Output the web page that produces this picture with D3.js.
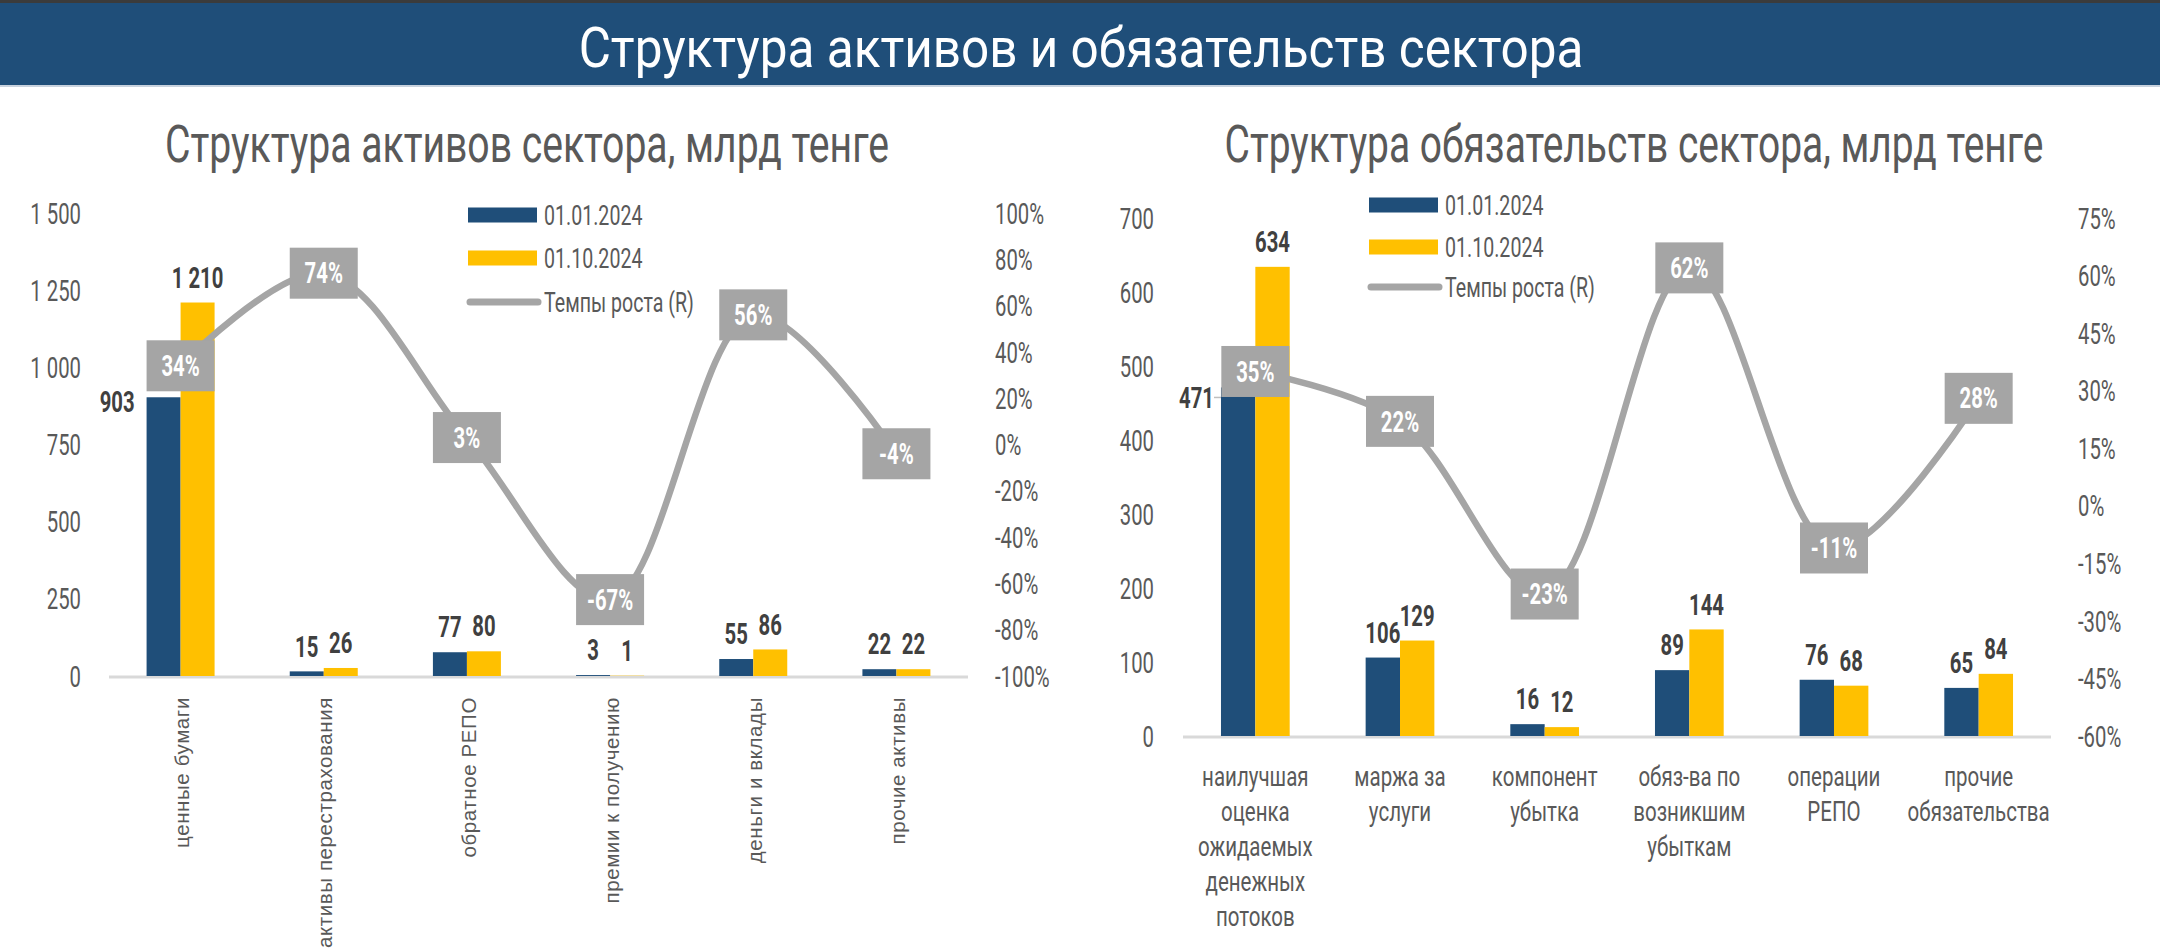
<!DOCTYPE html>
<html><head><meta charset="utf-8">
<script src="https://cdn.jsdelivr.net/npm/d3@7"></script>
<style>
html,body{margin:0;padding:0;background:#fff;}
svg{display:block;}
</style></head>
<body>
<svg id="c" width="2160" height="949"></svg>
<script>
// ---------- DATA ----------
const mainTitle = "Структура активов и обязательств сектора";
const assetsTitle = "Структура активов сектора, млрд тенге";
const liabTitle = "Структура обязательств сектора, млрд тенге";
const seriesNames = ["01.01.2024", "01.10.2024", "Темпы роста (R)"];

const assetCategories = ["ценные бумаги", "активы перестрахования", "обратное РЕПО", "премии к получению", "деньги и вклады", "прочие активы"];
const assetStart = [903, 15, 77, 3, 55, 22];
const assetEnd = [1210, 26, 80, 1, 86, 22];
const assetGrowth = [34, 74, 3, -67, 56, -4];
const assetLeftTicks = [0, 250, 500, 750, 1000, 1250, 1500];
const assetRightTicks = [-100, -80, -60, -40, -20, 0, 20, 40, 60, 80, 100];

const liabCategories = [["наилучшая", "оценка", "ожидаемых", "денежных", "потоков"], ["маржа за", "услуги"], ["компонент", "убытка"], ["обяз-ва по", "возникшим", "убыткам"], ["операции", "РЕПО"], ["прочие", "обязательства"]];
const liabStart = [471, 106, 16, 89, 76, 65];
const liabEnd = [634, 129, 12, 144, 68, 84];
const liabGrowth = [35, 22, -23, 62, -11, 28];
const liabLeftTicks = [0, 100, 200, 300, 400, 500, 600, 700];
const liabRightTicks = [-60, -45, -30, -15, 0, 15, 30, 45, 60, 75];

// ---------- STYLE ----------
const BLUE = "#1F4E79", YELLOW = "#FFC000", GRAY = "#A5A5A5", TXT = "#595959", VAL = "#404040";
const CF = "Roboto, 'Liberation Sans', sans-serif";
const SX = 0.7;
const svg = d3.select("#c");
const loc = d3.formatLocale({decimal: ",", thousands: "\u00a0", grouping: [3], currency: ["", ""]});
const fmtNum = loc.format(",d");
const fmtPct = d => d + "%";

function ctext(g, x, y, str, o = {}) {
  return g.append("text")
    .attr("transform", `translate(${x},${y}) scale(${o.sx ?? SX},1)`)
    .attr("text-anchor", o.anchor || "start")
    .attr("dy", o.dy ?? "0.35em")
    .attr("font-family", CF)
    .attr("font-size", o.size || 28)
    .attr("font-weight", o.weight || 400)
    .attr("fill", o.fill || TXT)
    .text(str);
}

// title fitted to a target width by horizontal scaling
function fitTitle(g, cx, baseY, str, size, targetW, fill) {
  const t = g.append("text").attr("text-anchor", "middle")
    .attr("font-family", CF).attr("font-size", size).attr("fill", fill).text(str);
  const len = t.node().getComputedTextLength() || targetW;
  t.attr("transform", `translate(${cx},${baseY}) scale(${targetW / len},1)`);
  return t;
}

// ---------- BANNER ----------
svg.append("rect").attr("x", 0).attr("y", 0).attr("width", 2160).attr("height", 85).attr("fill", BLUE);
svg.append("rect").attr("x", 0).attr("y", 0).attr("width", 2160).attr("height", 3).attr("fill", "#3b3b3b");
svg.append("line").attr("x1", 0).attr("x2", 2160).attr("y1", 86).attr("y2", 86).attr("stroke", "#c8d2de").attr("stroke-width", 2);
fitTitle(svg, 1081, 67, mainTitle, 56, 1005, "#fff");

// ---------- CHART ----------
function drawChart(cfg) {
  const g = svg.append("g");
  const n = cfg.cats.length;
  const x = d3.scaleBand().domain(d3.range(n)).range([cfg.x0, cfg.x1]);
  const grpW = x.bandwidth() * 0.475;
  const xs = d3.scaleBand().domain([0, 1]).range([0, grpW]);
  const cx = i => x(i) + x.bandwidth() / 2;
  const yL = d3.scaleLinear().domain(d3.extent(cfg.leftTicks)).range([cfg.yB, cfg.yT]);
  const yR = d3.scaleLinear().domain(d3.extent(cfg.rightTicks)).range([cfg.yB, cfg.yT]);

  // title
  fitTitle(g, cfg.titleX, 162, cfg.title, 52, cfg.titleW, TXT);

  // axes
  const axL = g.append("g").attr("transform", `translate(${cfg.axLX},0)`)
    .call(d3.axisLeft(yL).tickValues(cfg.leftTicks).tickFormat(fmtNum).tickSize(0).tickPadding(0));
  const axR = g.append("g").attr("transform", `translate(${cfg.axRX},0)`)
    .call(d3.axisRight(yR).tickValues(cfg.rightTicks).tickFormat(fmtPct).tickSize(0).tickPadding(0));
  [axL, axR].forEach(a => {
    a.select(".domain").remove();
    a.selectAll("text").attr("font-family", CF).attr("font-size", 29).attr("fill", TXT)
      .attr("x", 0).attr("dy", "0.35em").attr("transform", `scale(${SX},1)`);
  });

  // baseline
  g.append("line").attr("x1", cfg.x0).attr("x2", cfg.x1).attr("y1", yL(0) + 1).attr("y2", yL(0) + 1)
    .attr("stroke", "#D9D9D9").attr("stroke-width", 3);

  // bars
  const series = [cfg.start, cfg.end];
  const colors = [BLUE, YELLOW];
  series.forEach((vals, si) => {
    g.selectAll(null).data(vals).join("rect")
      .attr("x", (d, i) => cx(i) - grpW / 2 + xs(si))
      .attr("y", d => yL(d))
      .attr("width", xs.bandwidth())
      .attr("height", d => yL(0) - yL(d))
      .attr("fill", colors[si]);
  });

  // growth line
  const line = d3.line().x((d, i) => cx(i)).y(d => yR(d)).curve(d3.curveCatmullRom.alpha(0.5));
  g.append("path").datum(cfg.growth).attr("d", line).attr("fill", "none")
    .attr("stroke", GRAY).attr("stroke-width", 6.5).attr("stroke-linecap", "round");

  // growth boxes
  cfg.growth.forEach((d, i) => {
    g.append("rect").attr("x", cx(i) - 34).attr("y", yR(d) - 25.5).attr("width", 68).attr("height", 51).attr("fill", GRAY);
    ctext(g, cx(i), yR(d), fmtPct(d), {anchor: "middle", size: 29, weight: 700, fill: "#fff"});
  });

  // value labels
  series.forEach((vals, si) => {
    vals.forEach((d, i) => {
      const bx = cx(i) - grpW / 2 + xs(si);
      if (i === 0 && si === 0) {
        ctext(g, bx - cfg.firstGap, yL(d) + cfg.firstDy, fmtNum(d), {anchor: "end", size: 29, weight: 700, fill: VAL});
        if (cfg.leader) {
          g.append("line").attr("x1", bx - 7).attr("x2", bx).attr("y1", yL(d) + cfg.firstDy).attr("y2", yL(d) + cfg.firstDy)
            .attr("stroke", "#BFBFBF").attr("stroke-width", 1.5);
        }
      } else {
        ctext(g, bx + xs.bandwidth() / 2, yL(d) - 25, fmtNum(d), {anchor: "middle", size: 29, weight: 700, fill: VAL});
      }
    });
  });

  // legend
  const lg = g.append("g");
  [0, 1].forEach(k => {
    lg.append("rect").attr("x", cfg.legX).attr("y", cfg.legY[k] - 7.5).attr("width", 69).attr("height", 15).attr("fill", colors[k]);
    ctext(lg, cfg.legX + 76, cfg.legY[k], seriesNames[k], {size: 28});
  });
  lg.append("line").attr("x1", cfg.legX + 2).attr("x2", cfg.legX + 70).attr("y1", cfg.legY[2]).attr("y2", cfg.legY[2])
    .attr("stroke", GRAY).attr("stroke-width", 7).attr("stroke-linecap", "round");
  ctext(lg, cfg.legX + 76, cfg.legY[2], seriesNames[2], {size: 28});

  // category labels
  if (cfg.rotated) {
    cfg.cats.forEach((c, i) => {
      g.append("text").attr("transform", `translate(${cx(i)},697) rotate(-90)`)
        .attr("text-anchor", "end").attr("dy", "0.42em")
        .attr("font-family", "'Liberation Sans', Arial, sans-serif").attr("font-size", 20.5)
        .attr("letter-spacing", 0.6).attr("fill", TXT).text(c);
    });
  } else {
    cfg.cats.forEach((lines, i) => {
      lines.forEach((s, j) => {
        ctext(g, cx(i), 777 + j * 35, s, {anchor: "middle", size: 27, sx: 0.76});
      });
    });
  }
}

drawChart({
  title: assetsTitle, titleX: 527, titleW: 724,
  cats: assetCategories, start: assetStart, end: assetEnd, growth: assetGrowth,
  leftTicks: assetLeftTicks, rightTicks: assetRightTicks,
  x0: 109, x1: 968, yT: 213, yB: 676, axLX: 81, axRX: 995,
  firstGap: 12, firstDy: 5, leader: false,
  legX: 468, legY: [215, 258, 302], rotated: true
});

drawChart({
  title: liabTitle, titleX: 1634, titleW: 819,
  cats: liabCategories, start: liabStart, end: liabEnd, growth: liabGrowth,
  leftTicks: liabLeftTicks, rightTicks: liabRightTicks,
  x0: 1183, x1: 2051, yT: 218, yB: 736, axLX: 1154, axRX: 2078,
  firstGap: 7, firstDy: 10, leader: true,
  legX: 1369, legY: [205, 247, 287], rotated: false
});
</script>
</body></html>
